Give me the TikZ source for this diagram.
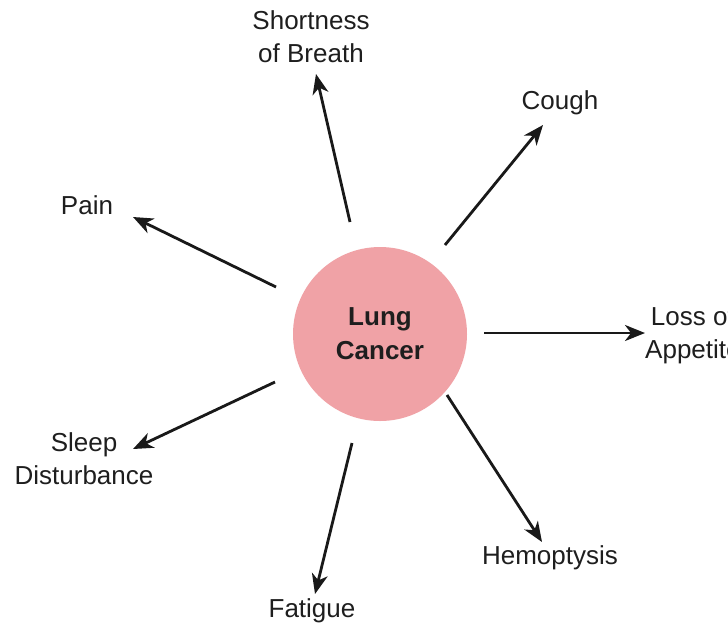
\documentclass[tikz,border=0pt]{standalone}
\usepackage{fontspec}
\setmainfont{Liberation Sans}
\usetikzlibrary{arrows.meta}
\definecolor{pinkc}{RGB}{240,162,166}
\definecolor{txt}{RGB}{30,30,30}
\begin{document}
\begin{tikzpicture}[x=1pt,y=-1pt,
  lbl/.style={font=\fontsize{26}{33}\selectfont, align=center, inner sep=0pt, text=txt},
  arr/.style={line width=2.8pt, draw=black!90, -{Stealth[length=20pt,width=16pt,inset=6pt]}},
  hub/.style={circle, fill=pinkc, minimum size=174pt, inner sep=0pt,
    font=\bfseries\fontsize{26}{34}\selectfont, align=center, text=txt}]
\useasboundingbox (0,0) rectangle (728,630);
\fill[white] (0,0) rectangle (728,630);

\node[hub] (c) at (380,334) {Lung\\Cancer};

\node[lbl] (short) at (311,37) {Shortness\\of Breath};
\node[lbl] (cough) at (560,103) {Cough};
\node[lbl] (pain) at (87,205) {Pain};
\node[lbl, anchor=west] (loss) at (645,335) {Loss of\\Appetite};
\node[lbl] (sleep) at (84,459) {Sleep\\Disturbance};
\node[lbl] (fatigue) at (312,611) {Fatigue};
\node[lbl] (hemo) at (550,558) {Hemoptysis};

\coordinate (s1) at (350,222); \coordinate (t1) at (316,74);
\coordinate (s2) at (445,245); \coordinate (t2) at (543,125);
\coordinate (s3) at (484,333); \coordinate (t3) at (645,333);
\coordinate (s4) at (447,395); \coordinate (t4) at (542,542);
\coordinate (s5) at (352,443); \coordinate (t5) at (315,594);
\coordinate (s6) at (275,382); \coordinate (t6) at (133,449);
\coordinate (s7) at (276,287); \coordinate (t7) at (133,217);

\draw[arr] (s1) -- (t1);
\draw[arr] (s2) -- (t2);
\draw[arr] (s3) -- (t3);
\draw[arr] (s4) -- (t4);
\draw[arr] (s5) -- (t5);
\draw[arr] (s6) -- (t6);
\draw[arr] (s7) -- (t7);
\end{tikzpicture}
\end{document}
